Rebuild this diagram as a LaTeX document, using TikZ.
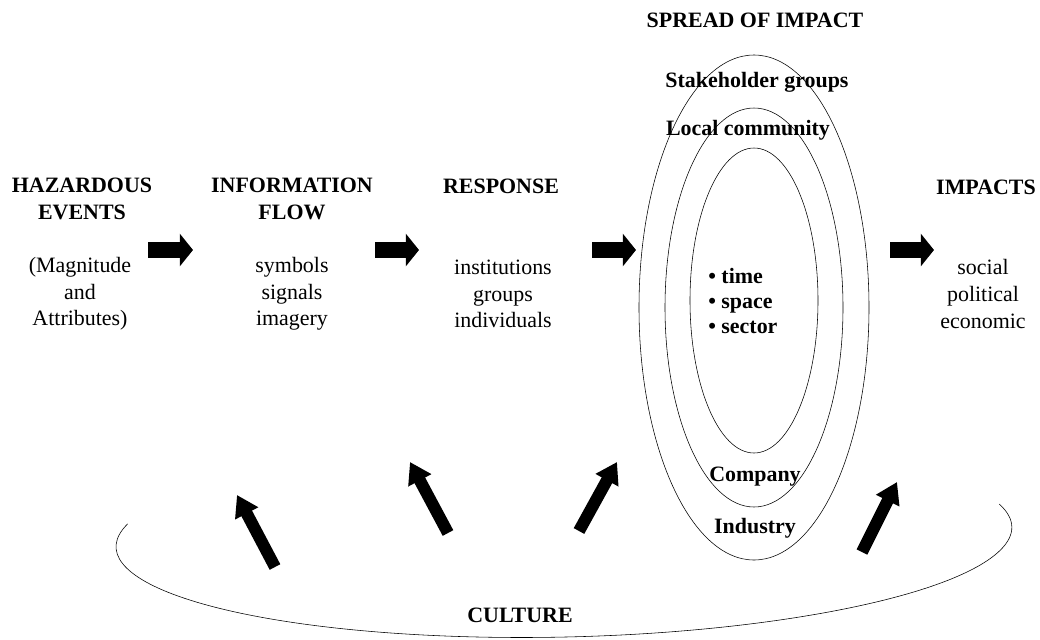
\documentclass[tikz,border=0pt]{standalone}
\usepackage{fontspec}
\setmainfont{Liberation Serif}
\usetikzlibrary{arrows.meta}

\tikzset{
  head/.style={font=\bfseries, align=center, inner sep=0pt},
  items/.style={align=center, inner sep=0pt},
  ringtext/.style={font=\bfseries, inner sep=0pt},
  fatarrow/.style={line width=0.4cm, -{Triangle[length=0.33cm,width=0.8cm]}},
  tiltarrow/.style={line width=0.3cm, -{Triangle[length=0.52cm,width=0.62cm]}},
}

\begin{document}
\begin{tikzpicture}[x=0.025cm,y=-0.025cm]
\fontsize{15.6pt}{18.9pt}\selectfont
\useasboundingbox (0,0) rectangle (1040,639);

% columns
\node[head] (hazard) at (82,199) {HAZARDOUS\\EVENTS};
\node[items] (hazardtxt) at (80,294) {(Magnitude\\and\\Attributes)};
\node[head] (info) at (292,199) {INFORMATION\\FLOW};
\node[items] (infotxt) at (292,294) {symbols\\signals\\imagery};
\node[head] (resp) at (501,186) {RESPONSE};
\node[items] (resptxt) at (503,294) {institutions\\groups\\individuals};
\node[head] (impacts) at (986,187) {IMPACTS};
\node[items] (impactstxt) at (983,294) {social\\political\\economic};

% spread of impact
\node[head] (spread) at (755,20) {SPREAD OF IMPACT};
\draw (754,307.5) ellipse [x radius=115, y radius=252.5];
\draw (754,307.5) ellipse [x radius=89, y radius=199.5];
\draw (754,300.5) ellipse [x radius=64, y radius=152.5];
\node[ringtext] (stake) at (757,82) {Stakeholder groups};
\node[ringtext] (local) at (748,130) {Local community};
\node[ringtext, anchor=base west] (time) at (708,283) {\textbullet\ time};
\node[ringtext, anchor=base west] (space) at (708,308) {\textbullet\ space};
\node[ringtext, anchor=base west] (sector) at (708,333) {\textbullet\ sector};
\node[ringtext] (company) at (755,477) {Company};
\node[ringtext] (industry) at (755,528) {Industry};

% culture
\draw[rotate around={1.3:(564,537)}] (564,537) ++(193.3:448 and 100)
  arc[start angle=193.3, end angle=-13.3, x radius=448, y radius=100];
\node[head] (culture) at (520,615) {CULTURE};

% flow arrows
\foreach \xa/\xb [count=\i] in {148/193, 375/419, 592/636, 890/934} {
  \coordinate (r\i a) at (\xa,250);
  \coordinate (r\i b) at (\xb,250);
  \draw[fatarrow] (r\i a) -- (r\i b);
}

% culture arrows
\foreach \ax/\ay/\bx/\by [count=\i] in {275/567/237/495, 448/533/410/462, 579/531/617/462, 862/552/897/482} {
  \coordinate (u\i a) at (\ax,\ay);
  \coordinate (u\i b) at (\bx,\by);
  \draw[tiltarrow] (u\i a) -- (u\i b);
}
\end{tikzpicture}
\end{document}
